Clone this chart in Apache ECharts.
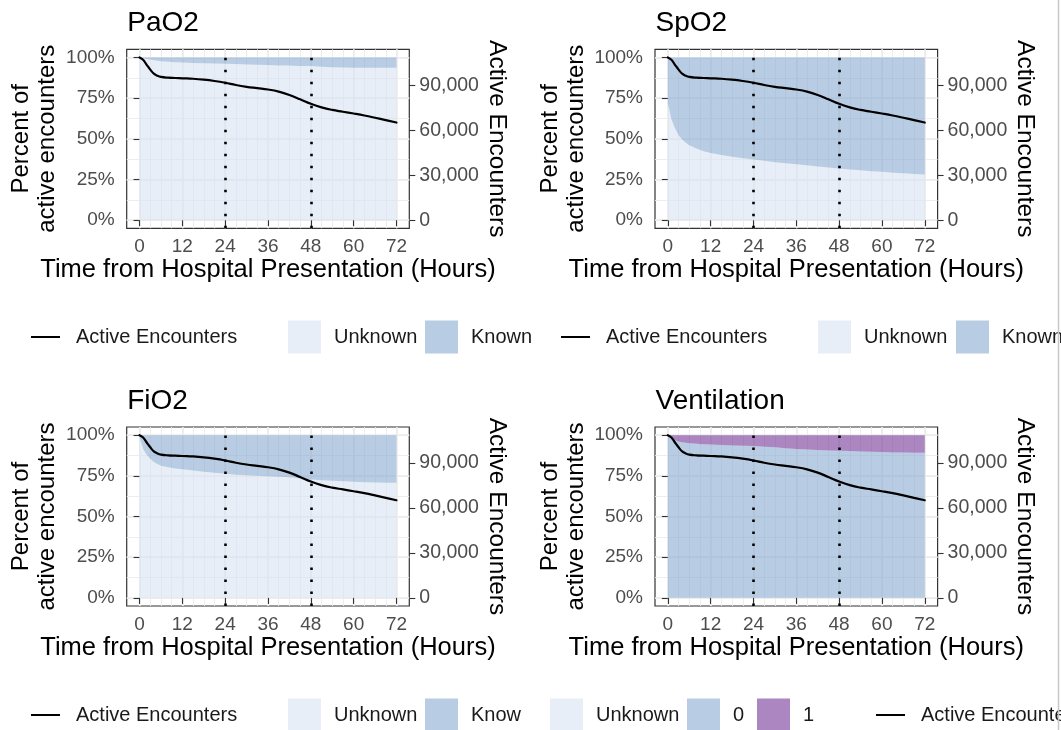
<!DOCTYPE html>
<html>
<head>
<meta charset="utf-8">
<script src="https://cdn.jsdelivr.net/npm/echarts@6/dist/echarts.min.js"></script>
<style>
  html, body { margin: 0; padding: 0; background: #ffffff; }
  #chart { width: 1061px; height: 730px; }
</style>
</head>
<body>
<div id="chart"></div>
<script>
// ---- data -------------------------------------------------------------
// Hours since hospital presentation at which the curves are sampled
const HOURS = [0, 1, 2, 3, 4, 5, 6, 8, 10, 12, 15, 18, 21, 24, 27, 30, 33, 36, 39, 42, 45, 48, 51, 54, 57, 60, 63, 66, 69, 72];

// Number of encounters still active (right axis)
const ACTIVE_ENCOUNTERS = [108500, 106900, 103600, 100400, 97700, 96300, 95500, 95000, 94800, 94600,
  94300, 93700, 92800, 91600, 90100, 88900, 88000, 87100, 85700, 83500,
  80600, 77600, 75200, 73500, 72300, 71100, 69800, 68300, 66700, 65100];

// Percent of active encounters whose value is still unknown (lower band)
const PAO2_UNKNOWN_PCT = [100, 99.6, 99.1, 98.7, 98.3, 98.0, 97.7, 97.4, 97.1, 96.9,
  96.6, 96.4, 96.2, 96.1, 95.9, 95.7, 95.5, 95.3, 95.1, 95.0,
  94.8, 94.7, 94.3, 93.9, 93.8, 93.7, 93.7, 93.6, 93.6, 93.6];
const SPO2_UNKNOWN_PCT = [72, 62, 56.5, 52.2, 49.5, 47.5, 46, 44, 42.3, 41.2,
  40, 39, 38.1, 37.3, 36.5, 35.6, 35, 34.4, 33.7, 33,
  32.4, 31.8, 31.2, 30.6, 30.1, 29.7, 29.2, 28.8, 28.4, 28.1];
const FIO2_UNKNOWN_PCT = [99, 91.5, 88, 85.5, 83.5, 82.2, 81.2, 80.2, 79.5, 79,
  78.3, 77.5, 76.9, 76.3, 75.7, 75.3, 75, 74.8, 74.5, 74.1,
  73.4, 72.7, 72.2, 71.9, 71.6, 71.3, 71.1, 70.9, 70.8, 70.7];
// Percent of active encounters not ventilated (value 0); the rest are ventilated (value 1)
const VENT_ZERO_PCT = [100, 98.2, 96.8, 96.1, 95.7, 95.3, 95.0, 94.7, 94.4, 94.2,
  93.9, 93.7, 93.5, 93.3, 92.9, 92.6, 92.0, 91.5, 91.2, 90.9,
  90.6, 90.4, 90.2, 90.0, 89.8, 89.6, 89.4, 89.3, 89.2, 89.1];

const PANEL_TITLES = ['PaO2', 'SpO2', 'FiO2', 'Ventilation'];
const HOUR_TICKS = [0, 12, 24, 36, 48, 60, 72];
const HOUR_GRID = [0, 3, 6, 9, 12, 15, 18, 21, 24, 27, 30, 33, 36, 39, 42, 45, 48, 51, 54, 57, 60, 63, 66, 69, 72];
const PCT_TICKS = [0, 25, 50, 75, 100];
const PCT_GRID = [0, 12.5, 25, 37.5, 50, 62.5, 75, 87.5, 100];
const COUNT_TICKS = [0, 30000, 60000, 90000];
const MARKED_HOURS = [24, 48];

// ---- styling ----------------------------------------------------------
const FONT = '"Liberation Sans", Arial, Helvetica, sans-serif';
const UNKNOWN_FILL = 'rgba(215,227,241,0.6)';
const KNOWN_FILL = 'rgba(137,170,208,0.6)';
const VENT_FILL = 'rgba(117,53,152,0.6)';
const GRID_COLOR = '#EBEBEB';
const TICK_COLOR = '#333333';
const LABEL_COLOR = '#4D4D4D';

const PANELS = [
  { title: PANEL_TITLES[0], boundary: PAO2_UNKNOWN_PCT, lower: 'Unknown', upper: 'Known', lowerColor: UNKNOWN_FILL, upperColor: KNOWN_FILL },
  { title: PANEL_TITLES[1], boundary: SPO2_UNKNOWN_PCT, lower: 'Unknown', upper: 'Known', lowerColor: UNKNOWN_FILL, upperColor: KNOWN_FILL },
  { title: PANEL_TITLES[2], boundary: FIO2_UNKNOWN_PCT, lower: 'Unknown', upper: 'Known', lowerColor: UNKNOWN_FILL, upperColor: KNOWN_FILL },
  { title: PANEL_TITLES[3], boundary: VENT_ZERO_PCT, lower: '0', upper: '1', lowerColor: KNOWN_FILL, upperColor: VENT_FILL }
];

// panel boxes (left, top) in pixels
const PANEL_W = 282.6, PANEL_H = 179;
const PANEL_POS = [[126.7, 49.3], [655, 49.3], [126.7, 427], [655, 427]];

// 5% padding around the data on both axes
const hourSpan = HOURS[HOURS.length - 1] - HOURS[0];
const X_MIN = HOURS[0] - 0.05 * hourSpan;
const X_MAX = HOURS[HOURS.length - 1] + 0.05 * hourSpan;
const START_COUNT = ACTIVE_ENCOUNTERS[0];

const titles = [], grids = [], xAxes = [], yAxes = [], series = [];

PANELS.forEach((p, i) => {
  const [left, top] = PANEL_POS[i];
  titles.push({
    text: p.title, left: left + 0.5, top: top - 40, padding: 0,
    textStyle: { fontSize: 28, fontWeight: 'normal', color: '#000', fontFamily: FONT }
  });
  grids.push({
    left: left, top: top, width: PANEL_W, height: PANEL_H,
    show: true, borderColor: TICK_COLOR, borderWidth: 1.2, backgroundColor: 'rgba(0,0,0,0)',
    containLabel: false, outerBoundsMode: 'none'
  });

  // hour axis with labels, plus a silent one that only carries the fine grid
  xAxes.push({
    gridIndex: i, type: 'value', position: 'bottom', min: X_MIN, max: X_MAX,
    axisLine: { show: false },
    axisTick: { show: true, customValues: HOUR_TICKS, length: 6, lineStyle: { color: TICK_COLOR, width: 1.1 } },
    axisLabel: { show: true, customValues: HOUR_TICKS, margin: 9, fontSize: 19, color: LABEL_COLOR, fontFamily: FONT },
    splitLine: { show: true, lineStyle: { color: GRID_COLOR, width: 1.6 } },
    name: 'Time from Hospital Presentation (Hours)', nameLocation: 'middle', nameGap: 29,
    nameMoveOverlap: false,
    nameTextStyle: { fontSize: 25.5, color: '#000', fontFamily: FONT }
  });
  xAxes.push({
    gridIndex: i, type: 'value', position: 'top', min: X_MIN, max: X_MAX,
    axisLine: { show: false },
    axisTick: { show: false, customValues: HOUR_GRID },
    axisLabel: { show: false },
    splitLine: { show: true, lineStyle: { color: GRID_COLOR, width: 0.9 } }
  });

  // percent axis (left), fine-grid axis, and encounter count axis (right)
  yAxes.push({
    gridIndex: i, type: 'value', position: 'left', min: -5, max: 105,
    axisLine: { show: false },
    axisTick: { show: true, customValues: PCT_TICKS, length: 6, lineStyle: { color: TICK_COLOR, width: 1.1 } },
    axisLabel: { show: true, customValues: PCT_TICKS, formatter: v => v + '%', margin: 12, fontSize: 19, color: LABEL_COLOR, fontFamily: FONT },
    splitLine: { show: true, lineStyle: { color: GRID_COLOR, width: 1.6 } },
    name: 'Percent of\nactive encounters', nameLocation: 'middle', nameRotate: 90, nameGap: 66,
    nameMoveOverlap: false,
    nameTextStyle: { fontSize: 24, lineHeight: 26, color: '#000', fontFamily: FONT }
  });
  yAxes.push({
    gridIndex: i, type: 'value', position: 'right', min: -5, max: 105,
    axisLine: { show: false },
    axisTick: { show: false, customValues: PCT_GRID },
    axisLabel: { show: false },
    splitLine: { show: true, lineStyle: { color: GRID_COLOR, width: 0.9 } }
  });
  yAxes.push({
    gridIndex: i, type: 'value', position: 'right',
    min: -0.05 * START_COUNT, max: 1.05 * START_COUNT,
    axisLine: { show: false },
    axisTick: { show: true, customValues: COUNT_TICKS, length: 6, lineStyle: { color: TICK_COLOR, width: 1.1 } },
    axisLabel: { show: true, customValues: COUNT_TICKS, formatter: v => Number(v).toLocaleString('en-US'), margin: 10, fontSize: 19.5, color: LABEL_COLOR, fontFamily: FONT },
    splitLine: { show: false },
    name: 'Active Encounters', nameLocation: 'middle', nameRotate: -90, nameGap: 75,
    nameMoveOverlap: false,
    nameTextStyle: { fontSize: 24.5, color: '#000', fontFamily: FONT }
  });

  const bandPoints = HOURS.map((h, k) => [h, p.boundary[k]]);
  series.push({
    type: 'line', name: p.lower, xAxisIndex: 2 * i, yAxisIndex: 3 * i,
    data: bandPoints, symbol: 'none', silent: true, z: 1,
    lineStyle: { width: 0, opacity: 0 },
    areaStyle: { color: p.lowerColor, opacity: 1, origin: 0 }
  });
  series.push({
    type: 'line', name: p.upper, xAxisIndex: 2 * i, yAxisIndex: 3 * i,
    data: bandPoints, symbol: 'none', silent: true, z: 1,
    lineStyle: { width: 0, opacity: 0 },
    areaStyle: { color: p.upperColor, opacity: 1, origin: 100 }
  });
  series.push({
    type: 'line', name: 'Active Encounters', xAxisIndex: 2 * i, yAxisIndex: 3 * i + 2,
    data: HOURS.map((h, k) => [h, ACTIVE_ENCOUNTERS[k]]),
    symbol: 'none', smooth: 0.45, silent: true, z: 3,
    lineStyle: { color: '#000', width: 2.2, cap: 'round', join: 'round' },
    markLine: {
      silent: true, symbol: ['none', 'none'], label: { show: false },
      lineStyle: { color: '#000', width: 2.6, type: [2.6, 9.4], cap: 'butt' },
      emphasis: { disabled: true },
      data: MARKED_HOURS.map(h => ({ xAxis: h }))
    }
  });
});

// ---- legends under each panel row --------------------------------------
const LEGEND_ROWS = [
  { y: 337, items: [
    { kind: 'line', x: 31, label: 'Active Encounters' },
    { kind: 'box', x: 288, fill: UNKNOWN_FILL, label: 'Unknown' },
    { kind: 'box', x: 425, fill: KNOWN_FILL, label: 'Known' },
    { kind: 'line', x: 561, label: 'Active Encounters' },
    { kind: 'box', x: 818, fill: UNKNOWN_FILL, label: 'Unknown' },
    { kind: 'box', x: 956, fill: KNOWN_FILL, label: 'Known' }
  ] },
  { y: 715, items: [
    { kind: 'line', x: 31, label: 'Active Encounters' },
    { kind: 'box', x: 288, fill: UNKNOWN_FILL, label: 'Unknown' },
    { kind: 'box', x: 425, fill: KNOWN_FILL, label: 'Know' },
    { kind: 'box', x: 550, fill: UNKNOWN_FILL, label: 'Unknown' },
    { kind: 'box', x: 687, fill: KNOWN_FILL, label: '0' },
    { kind: 'box', x: 757, fill: VENT_FILL, label: '1' },
    { kind: 'line', x: 876, label: 'Active Encounters' }
  ] }
];

const graphics = [];
LEGEND_ROWS.forEach(row => {
  row.items.forEach(it => {
    if (it.kind === 'line') {
      graphics.push({ type: 'line', silent: true,
        shape: { x1: it.x, y1: row.y, x2: it.x + 29, y2: row.y },
        style: { stroke: '#000', lineWidth: 2 } });
      graphics.push({ type: 'text', silent: true, x: it.x + 45, y: row.y,
        style: { text: it.label, font: '20px ' + FONT, fill: '#1a1a1a', verticalAlign: 'middle', textVerticalAlign: 'middle' } });
    } else {
      graphics.push({ type: 'rect', silent: true,
        shape: { x: it.x, y: row.y - 16.5, width: 33, height: 33 },
        style: { fill: it.fill } });
      graphics.push({ type: 'text', silent: true, x: it.x + 46, y: row.y,
        style: { text: it.label, font: '20px ' + FONT, fill: '#1a1a1a', verticalAlign: 'middle', textVerticalAlign: 'middle' } });
    }
  });
});
// thin frame line along the right edge
graphics.push({ type: 'line', silent: true,
  shape: { x1: 1058.5, y1: 0, x2: 1058.5, y2: 730 },
  style: { stroke: '#c8c8c8', lineWidth: 1.5 } });

const chart = echarts.init(document.getElementById('chart'), null, { renderer: 'canvas' });
chart.setOption({
  animation: false,
  backgroundColor: '#ffffff',
  title: titles,
  grid: grids,
  xAxis: xAxes,
  yAxis: yAxes,
  series: series,
  graphic: graphics
});
</script>
</body>
</html>
